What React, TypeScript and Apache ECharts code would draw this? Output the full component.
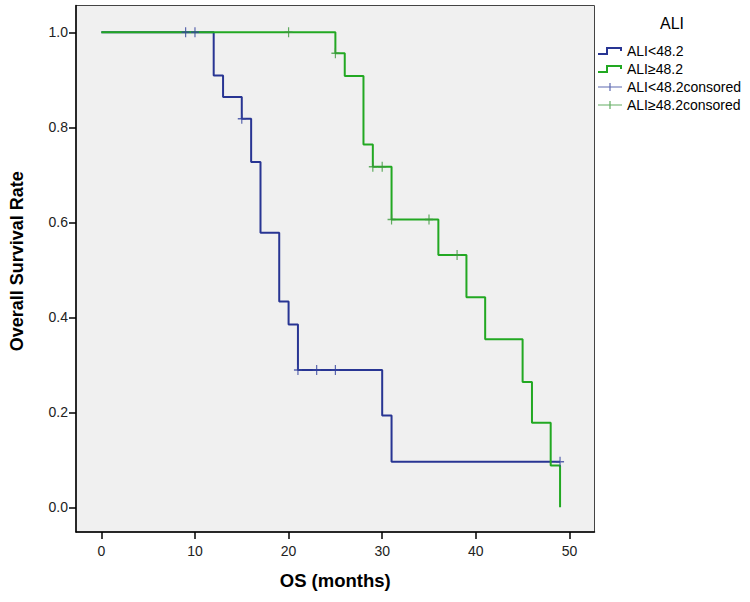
import React, { useEffect, useRef } from "react";
import * as echarts from "echarts";

// Axis ticks
const xTicks = [0, 10, 20, 30, 40, 50];
const yTicks = [0, 0.2, 0.4, 0.6, 0.8, 1.0];

// Series names
const seriesNames = ["ALI<48.2", "ALI≥48.2", "ALI<48.2consored", "ALI≥48.2consored"];

// Kaplan-Meier step points (time in months, survival after event)
const lowTimes = [0, 12, 13, 15, 16, 17, 19, 20, 21, 30, 31, 49];
const lowSurvival = [1, 0.909, 0.864, 0.818, 0.727, 0.578, 0.433, 0.385, 0.289, 0.193, 0.096, 0.096];
const highTimes = [0, 25, 26, 28, 29, 31, 36, 39, 41, 45, 46, 48, 49];
const highSurvival = [1, 0.956, 0.908, 0.764, 0.717, 0.606, 0.531, 0.442, 0.354, 0.264, 0.178, 0.088, 0];

// Censored observations
const lowCensorTimes = [9, 10, 15, 21, 23, 25, 49];
const lowCensorSurvival = [1, 1, 0.818, 0.289, 0.289, 0.289, 0.096];
const highCensorTimes = [20, 25, 29, 30, 31, 35, 38];
const highCensorSurvival = [1, 0.956, 0.717, 0.717, 0.606, 0.606, 0.531];

const BLUE = "#283593";
const GREEN = "#22a822";
const FONT = 'Arial, "Liberation Sans", sans-serif';

const STEP_ICON = "path://M0,6 H8 V0 H24 V4 H22 V2 H10 V8 H0 Z";
const PLUS_ICON = "path://M0,3.4 H11.4 V0 H12.6 V3.4 H24 V4.6 H12.6 V8 H11.4 V4.6 H0 Z";
const PLUS_MARK = "path://M0,4.3 H3.4 V0 H4.6 V4.3 H8 V5.7 H4.6 V10 H3.4 V5.7 H0 Z";

const zip = (xs: number[], ys: number[]) => xs.map((x, i) => [x, ys[i]]);

export default function App() {
  const ref = useRef<HTMLDivElement>(null);

  useEffect(() => {
    if (!ref.current) return;
    const chart = echarts.init(ref.current, undefined, { renderer: "svg" });
    chart.setOption({
      animation: false,
      backgroundColor: "#ffffff",
      textStyle: { fontFamily: FONT },
      grid: {
        left: 67.5,
        right: 155.5,
        top: 5.5,
        bottom: 70,
        show: true,
        backgroundColor: "#f0f0f0",
        borderColor: "#444",
        borderWidth: 1,
      },
      graphic: [
        {
          type: "text",
          x: 672,
          y: 23,
          style: {
            text: "ALI",
            fontSize: 16,
            fontFamily: FONT,
            fill: "#000",
            textAlign: "center",
            textVerticalAlign: "middle",
          },
        },
      ],
      legend: {
        orient: "vertical",
        left: 598,
        top: 44,
        padding: 0,
        itemWidth: 24,
        itemHeight: 8,
        itemGap: 4,
        selectedMode: false,
        itemStyle: { borderWidth: 0 },
        textStyle: { fontSize: 14, color: "#000", fontFamily: FONT },
        data: [
          { name: seriesNames[0], icon: STEP_ICON },
          { name: seriesNames[1], icon: STEP_ICON },
          { name: seriesNames[2], icon: PLUS_ICON },
          { name: seriesNames[3], icon: PLUS_ICON },
        ],
      },
      xAxis: {
        type: "value",
        min: -2.71,
        max: 52.68,
        name: "OS (months)",
        nameLocation: "middle",
        nameGap: 39,
        nameTextStyle: { fontSize: 18.5, fontWeight: "bold", color: "#000", fontFamily: FONT },
        axisLine: { show: true, onZero: false, lineStyle: { color: "#000", width: 1.5 } },
        axisTick: { show: true, length: 7, customValues: xTicks, lineStyle: { color: "#000", width: 1.5 } },
        axisLabel: { customValues: xTicks, fontSize: 14, color: "#222", margin: 12, fontFamily: FONT },
        splitLine: { show: false },
      },
      yAxis: {
        type: "value",
        min: -0.052,
        max: 1.0564,
        name: "Overall Survival Rate",
        nameLocation: "middle",
        nameGap: 50,
        nameTextStyle: { fontSize: 18, fontWeight: "bold", color: "#000", fontFamily: FONT, padding: [0, 0, 0, 15] },
        axisLine: { show: true, onZero: false, lineStyle: { color: "#000", width: 1.5 } },
        axisTick: { show: true, length: 7, customValues: yTicks, lineStyle: { color: "#000", width: 1.5 } },
        axisLabel: {
          customValues: yTicks,
          fontSize: 14,
          color: "#222",
          margin: 8,
          fontFamily: FONT,
          formatter: (v: number) => v.toFixed(1),
        },
        splitLine: { show: false },
      },
      series: [
        {
          name: seriesNames[0],
          type: "line",
          step: "end",
          showSymbol: false,
          symbol: "none",
          data: zip(lowTimes, lowSurvival),
          color: BLUE,
          lineStyle: { color: BLUE, width: 2 },
          z: 2,
        },
        {
          name: seriesNames[1],
          type: "line",
          step: "end",
          showSymbol: false,
          symbol: "none",
          data: zip(highTimes, highSurvival),
          color: GREEN,
          lineStyle: { color: GREEN, width: 2 },
          z: 3,
        },
        {
          name: seriesNames[2],
          type: "scatter",
          symbol: PLUS_MARK,
          symbolSize: [8, 10],
          data: zip(lowCensorTimes, lowCensorSurvival),
          itemStyle: { color: "#34449e" },
          z: 4,
        },
        {
          name: seriesNames[3],
          type: "scatter",
          symbol: PLUS_MARK,
          symbolSize: [8, 10],
          data: zip(highCensorTimes, highCensorSurvival),
          itemStyle: { color: "#3c9a3c" },
          z: 4,
        },
      ],
    });
    return () => chart.dispose();
  }, []);

  return (
    <div
      ref={ref}
      style={{ position: "fixed", left: 0, top: 0, width: 750, height: 602 }}
    />
  );
}
